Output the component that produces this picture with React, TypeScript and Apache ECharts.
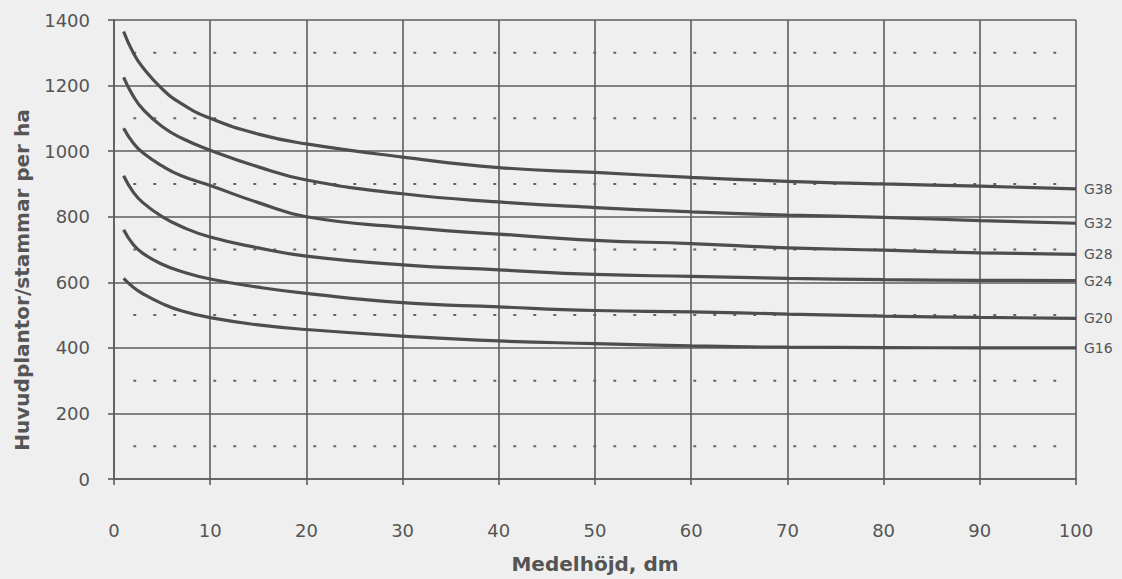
import React, { useEffect, useRef } from "react";
import * as echarts from "echarts";

const heights = [1, 2, 3, 5, 7, 10, 15, 20, 30, 40, 50, 60, 70, 80, 90, 100];
const seriesNames = ["G38", "G32", "G28", "G24", "G20", "G16"];
const g38 = [1365, 1300, 1255, 1190, 1145, 1100, 1052, 1022, 982, 950, 935, 920, 908, 900, 893, 885];
const g32 = [1225, 1168, 1128, 1075, 1040, 1003, 952, 912, 870, 845, 828, 815, 805, 798, 788, 780];
const g28 = [1070, 1025, 995, 955, 925, 895, 843, 800, 768, 747, 728, 718, 705, 698, 690, 685];
const g24 = [925, 875, 843, 800, 770, 738, 705, 680, 653, 638, 624, 618, 612, 608, 606, 605];
const g20 = [760, 715, 688, 655, 633, 610, 585, 566, 538, 525, 514, 510, 503, 497, 493, 490];
const g16 = [612, 585, 565, 535, 513, 492, 470, 456, 436, 421, 413, 406, 402, 401, 400, 400];
const dottedLevels = [100, 300, 500, 700, 900, 1100, 1300];
const dottedRange = [2, 98];
const xTitle = "Medelhöjd, dm";
const yTitle = "Huvudplantor/stammar per ha";

const allValues = [g38, g32, g28, g24, g20, g16];

export default function App() {
  const ref = useRef<HTMLDivElement>(null);
  useEffect(() => {
    document.body.style.margin = "0";
    const chart = echarts.init(ref.current!, null, { renderer: "svg" });
    const ink = "#555";
    const font = "DejaVu Sans";
    const gridColor = "#5e5e5e";
    const curveSeries = seriesNames.map((name, i) => ({
      name,
      type: "line",
      data: heights.map((h, j) => [h, allValues[i][j]]),
      smooth: true,
      showSymbol: false,
      lineStyle: { color: "#4d4d4d", width: 3.2 },
      endLabel: {
        show: true,
        formatter: "{a}",
        color: ink,
        fontFamily: font,
        fontSize: 14,
        distance: 8,
      },
      z: 3,
    }));
    const dottedSeries = dottedLevels.map((lv) => ({
      name: "d" + lv,
      type: "line",
      data: dottedRange.map((x) => [x, lv]),
      showSymbol: false,
      silent: true,
      lineStyle: { color: "#666", width: 2, type: [3, 17] },
      z: 2,
    }));
    chart.setOption({
      animation: false,
      backgroundColor: "#efefef",
      grid: { left: 114, right: 46, top: 20, bottom: 88 },
      graphic: [
        {
          type: "text",
          x: 22,
          y: 280,
          rotation: Math.PI / 2,
          style: {
            text: yTitle,
            fill: ink,
            font: `bold 20px "${font}"`,
            align: "center",
            verticalAlign: "middle",
          },
        },
      ],
      xAxis: {
        type: "value",
        min: 0,
        max: 100,
        interval: 10,
        name: xTitle,
        nameLocation: "middle",
        nameGap: 75,
        nameTextStyle: { color: ink, fontFamily: font, fontSize: 20, fontWeight: "bold" },
        axisLine: { show: true, lineStyle: { color: gridColor, width: 1.6 } },
        axisTick: { show: true, length: 6, lineStyle: { color: gridColor, width: 1.6 } },
        axisLabel: { color: ink, fontFamily: font, fontSize: 18, margin: 42 },
        splitLine: { show: true, lineStyle: { color: gridColor, width: 1.6 } },
      },
      yAxis: {
        type: "value",
        min: 0,
        max: 1400,
        interval: 200,
        axisLine: { show: true, lineStyle: { color: gridColor, width: 1.6 } },
        axisTick: { show: true, length: 6, lineStyle: { color: gridColor, width: 1.6 } },
        axisLabel: {
          color: ink,
          fontFamily: font,
          fontSize: 18,
          margin: 24,
          formatter: (v: number) => String(v),
        },
        splitLine: { show: true, lineStyle: { color: gridColor, width: 1.6 } },
      },
      series: [...dottedSeries, ...curveSeries],
    });
    return () => chart.dispose();
  }, []);
  return <div ref={ref} style={{ width: 1122, height: 579 }} />;
}
